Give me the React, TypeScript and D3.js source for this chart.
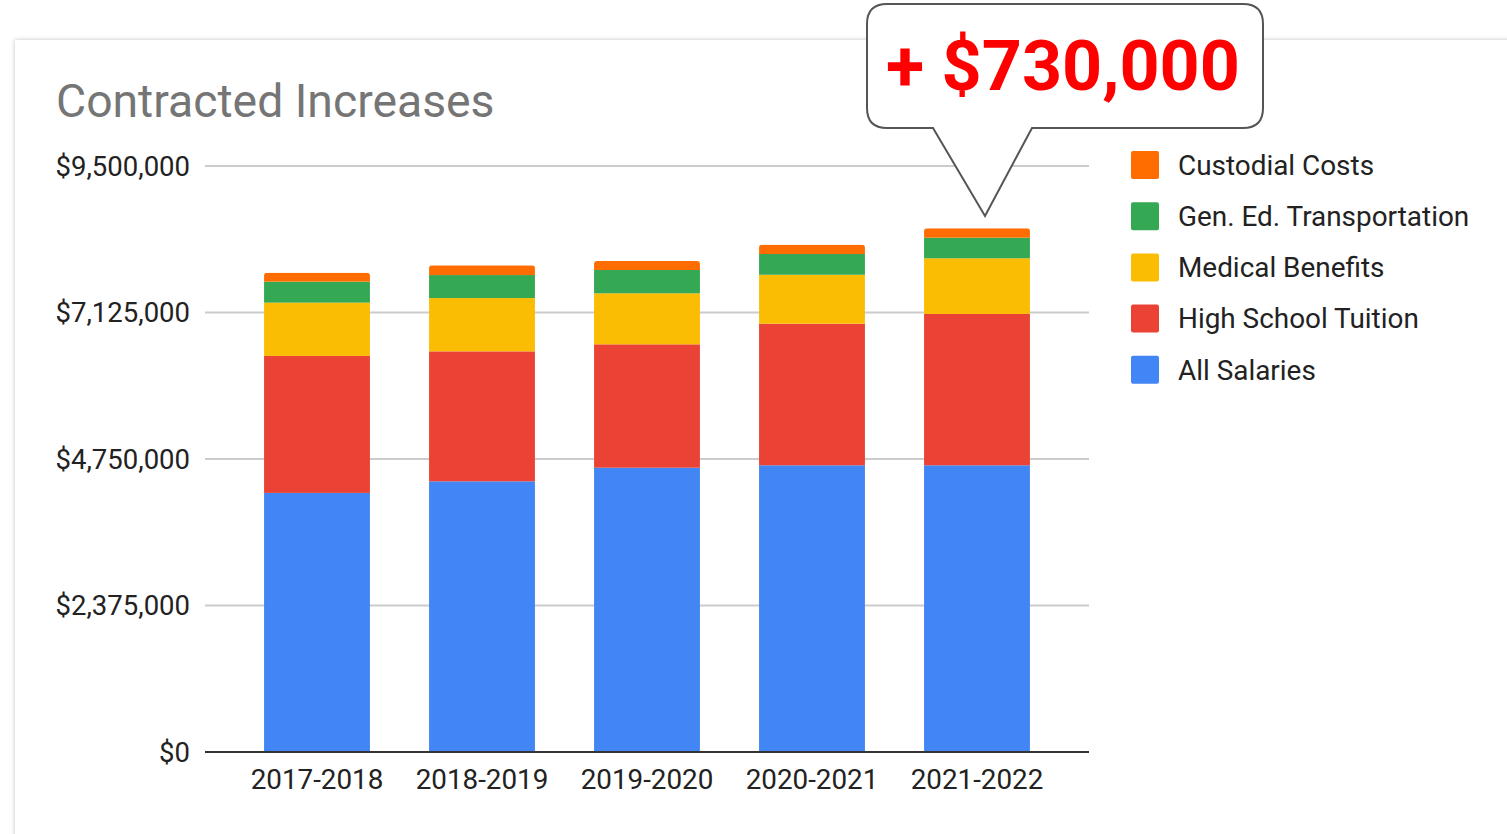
import React from "react";
import * as d3 from "d3";

const years = ["2017-2018", "2018-2019", "2019-2020", "2020-2021", "2021-2022"];
const seriesNames = ["All Salaries", "High School Tuition", "Medical Benefits", "Gen. Ed. Transportation", "Custodial Costs"];
const allSalaries = [4200000, 4388000, 4609000, 4648000, 4648000];
const highSchoolTuition = [2221000, 2107000, 2000000, 2295000, 2453000];
const medicalBenefits = [864000, 864000, 827000, 794000, 903000];
const genEdTransportation = [340000, 373000, 378000, 336000, 334000];
const custodialCosts = [146000, 157000, 146000, 151000, 152000];
const colors = ["#4285f4", "#ea4335", "#fbbc04", "#34a853", "#ff6d01"];
const yTicks = [0, 2375000, 4750000, 7125000, 9500000];
const calloutText = "+ $730,000";
const title = "Contracted Increases";

export default function App() {
  const seriesValues = [allSalaries, highSchoolTuition, medicalBenefits, genEdTransportation, custodialCosts];
  const rows = years.map((y, i) => {
    const r: any = { year: y };
    seriesNames.forEach((s, j) => (r[s] = seriesValues[j][i]));
    return r;
  });
  const stacked = d3.stack<any>().keys(seriesNames)(rows);

  const x = d3.scaleBand().domain(years).range([234.5, 1059.5]).paddingInner(0.358).paddingOuter(0.179);
  const y = d3.scaleLinear().domain([0, 9500000]).range([752, 166]);
  const fmt = (v: number) => "$" + d3.format(",")(v);
  const font = "Roboto, 'Noto Sans', sans-serif";

  const legendOrder = [...seriesNames].reverse();

  return (
    <svg width={1507} height={834} style={{ position: "absolute", left: 0, top: 0, background: "#fff" }} fontFamily={font}>
      <defs>
        <filter id="shadow" x="-5%" y="-5%" width="110%" height="110%">
          <feDropShadow dx="0" dy="0" stdDeviation="2" floodColor="#000" floodOpacity="0.25" />
        </filter>
        {years.map((yr, i) => {
          const top = y(stacked[stacked.length - 1][i][1]);
          return (
            <clipPath id={`clip${i}`} key={yr}>
              <rect x={x(yr)} y={top} width={x.bandwidth()} height={760 - top} rx={3} ry={3} />
            </clipPath>
          );
        })}
      </defs>
      <rect x={15} y={40} width={1520} height={820} fill="#fff" filter="url(#shadow)" />
      <text x={56} y={117} fontSize={46.3} fill="#757575">{title}</text>

      {yTicks.map((t) => (
        <g key={t}>
          {t !== 0 && <line x1={205} x2={1089} y1={y(t)} y2={y(t)} stroke="#cccccc" strokeWidth={2} />}
          <text x={190} y={y(t)} dy="0.35em" textAnchor="end" fontSize={27.5} fill="#222">{fmt(t)}</text>
        </g>
      ))}

      {stacked.map((layer, j) => (
        <g key={layer.key} fill={colors[j]}>
          {layer.map((d, i) => (
            <rect
              key={years[i]}
              x={x(years[i])}
              y={y(d[1])}
              width={x.bandwidth()}
              height={y(d[0]) - y(d[1])}
              clipPath={`url(#clip${i})`}
            />
          ))}
        </g>
      ))}

      <line x1={205} x2={1089} y1={y(0)} y2={y(0)} stroke="#333" strokeWidth={2} />

      {years.map((yr) => (
        <text key={yr} x={(x(yr) as number) + x.bandwidth() / 2} y={789} textAnchor="middle" fontSize={27.8} fill="#222">{yr}</text>
      ))}

      {legendOrder.map((name, k) => {
        const j = seriesNames.indexOf(name);
        const cy = 165 + k * 51.2;
        return (
          <g key={name}>
            <rect x={1131} y={cy - 14} width={28} height={28} rx={2} fill={colors[j]} />
            <text x={1178} y={cy} dy="0.35em" fontSize={27.9} fill="#222">{name}</text>
          </g>
        );
      })}

      <path
        d="M887,4 H1243 Q1263,4 1263,24 V108 Q1263,128 1243,128 H1032 L985,216 L933,128 H887 Q867,128 867,108 V24 Q867,4 887,4 Z"
        fill="#fff"
        stroke="#555"
        strokeWidth={2}
      />
      <text x={1063} y={90} textAnchor="middle" fontSize={70} fontWeight="bold" fill="#ff0000">{calloutText}</text>
    </svg>
  );
}
